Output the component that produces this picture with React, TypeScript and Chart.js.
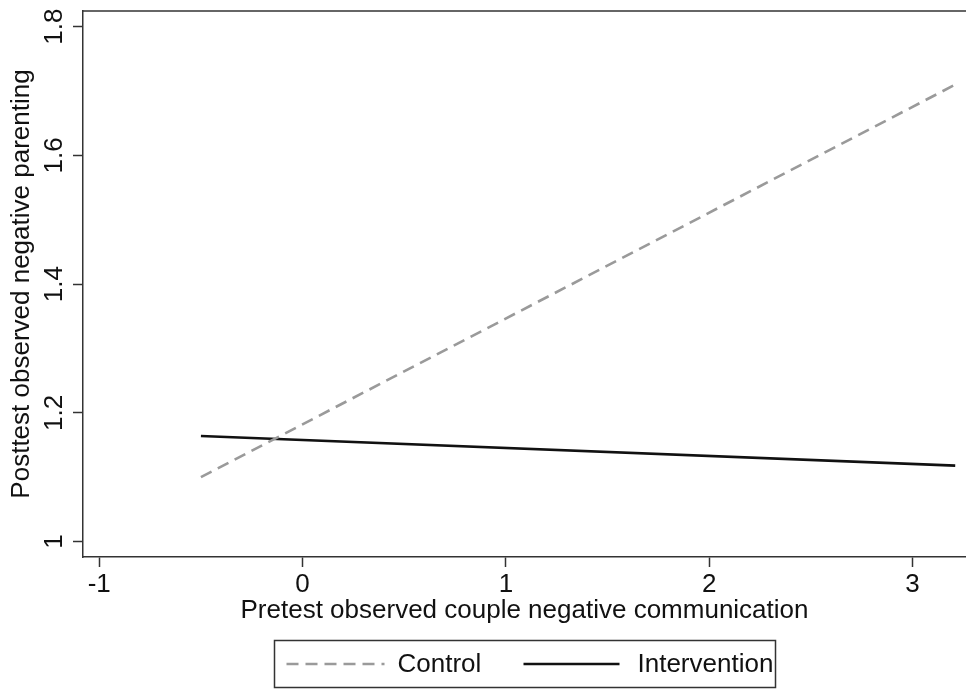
import React, { useEffect, useRef } from "react";
import { Chart, registerables } from "chart.js";

Chart.register(...registerables);

const xValues = [-0.5, 3.21];
const controlValues = [1.1, 1.71];
const interventionValues = [1.164, 1.118];
const xTickValues = [-1, 0, 1, 2, 3];
const yTickValues = [1, 1.2, 1.4, 1.6, 1.8];
const seriesLabels = ["Control", "Intervention"];
const xTitle = "Pretest observed couple negative communication";
const yTitle = "Posttest observed negative parenting";

const FONT = "'Liberation Sans', Arial, Helvetica, sans-serif";
const AXIS = "#333333";

const topBorderPlugin = {
  id: "topBorder",
  afterDraw(chart: any) {
    const { ctx, chartArea } = chart;
    ctx.save();
    ctx.strokeStyle = AXIS;
    ctx.lineWidth = 1.5;
    ctx.beginPath();
    ctx.moveTo(chartArea.left - 0.75, chartArea.top);
    ctx.lineTo(chartArea.right + 2, chartArea.top);
    ctx.stroke();
    ctx.restore();
  },
};

const boxLegendPlugin = {
  id: "boxLegend",
  afterDraw(chart: any) {
    const { ctx, chartArea } = chart;
    const ds = chart.data.datasets;
    const cx = (chartArea.left + chartArea.right) / 2;
    const w = 501;
    const h = 47;
    const left = Math.round(cx - w / 2) + 0.5;
    const top = 640.5;
    const cy = top + h / 2;
    ctx.save();
    ctx.strokeStyle = AXIS;
    ctx.lineWidth = 1.5;
    ctx.strokeRect(left, top, w, h);
    ctx.font = `26px ${FONT}`;
    ctx.textBaseline = "middle";
    ctx.textAlign = "left";
    const items = [
      { x0: left + 12, x1: left + 110, tx: left + 123 },
      { x0: left + 249, x1: left + 345, tx: left + 363 },
    ];
    items.forEach((it, i) => {
      const d = ds[i];
      ctx.save();
      ctx.strokeStyle = d.borderColor;
      ctx.lineWidth = d.borderWidth;
      ctx.setLineDash(d.borderDash || []);
      ctx.beginPath();
      ctx.moveTo(it.x0, cy);
      ctx.lineTo(it.x1, cy);
      ctx.stroke();
      ctx.restore();
      ctx.fillStyle = "#111";
      ctx.fillText(d.label, it.tx, cy + 1);
    });
    ctx.restore();
  },
};

export default function App() {
  const ref = useRef<HTMLCanvasElement | null>(null);

  useEffect(() => {
    if (!ref.current) return;
    Chart.defaults.font.family = FONT;
    const chart = new Chart(ref.current, {
      type: "line",
      data: {
        datasets: [
          {
            label: seriesLabels[0],
            data: xValues.map((x, i) => ({ x, y: controlValues[i] })),
            borderColor: "#9a9a9a",
            borderWidth: 2.6,
            borderDash: [12, 7],
            pointRadius: 0,
            fill: false,
            tension: 0,
          },
          {
            label: seriesLabels[1],
            data: xValues.map((x, i) => ({ x, y: interventionValues[i] })),
            borderColor: "#111111",
            borderWidth: 2.6,
            pointRadius: 0,
            fill: false,
            tension: 0,
          },
        ],
      },
      options: {
        animation: false,
        responsive: false,
        devicePixelRatio: 1,
        layout: { padding: { top: 11, right: 0, left: 0, bottom: 64 } },
        plugins: { legend: { display: false }, tooltip: { enabled: false } },
        scales: {
          x: {
            type: "linear",
            min: -1.08,
            max: 3.263,
            afterBuildTicks: (scale: any) => {
              scale.ticks = xTickValues.map((v) => ({ value: v }));
            },
            afterFit: (scale: any) => {
              scale.height = 69;
              scale.paddingLeft = 0;
              scale.paddingRight = 0;
            },
            ticks: {
              autoSkip: false,
              maxRotation: 0,
              minRotation: 0,
              padding: 2,
              color: "#111",
              font: { size: 26 },
              callback: (v: any) => String(v),
            },
            grid: {
              display: true,
              drawOnChartArea: false,
              drawTicks: true,
              tickLength: 10,
              tickWidth: 1.5,
              tickColor: AXIS,
            },
            border: { display: true, color: AXIS, width: 1.5 },
            title: {
              display: true,
              text: xTitle,
              color: "#111",
              font: { size: 26 },
              padding: { top: 0, bottom: 0 },
            },
          },
          y: {
            type: "linear",
            min: 0.976,
            max: 1.8244,
            afterBuildTicks: (scale: any) => {
              scale.ticks = yTickValues.map((v) => ({ value: v }));
            },
            afterFit: (scale: any) => {
              scale.width = 83;
              scale.paddingTop = 0;
              scale.paddingBottom = 0;
            },
            ticks: {
              autoSkip: false,
              minRotation: 90,
              maxRotation: 90,
              crossAlign: "center",
              padding: 0,
              color: "#111",
              font: { size: 26 },
              callback: (v: any) => String(v),
            },
            grid: {
              display: true,
              drawOnChartArea: false,
              drawTicks: true,
              tickLength: 10,
              tickWidth: 1.5,
              tickColor: AXIS,
            },
            border: { display: true, color: AXIS, width: 1.5 },
            title: {
              display: true,
              text: yTitle,
              color: "#111",
              font: { size: 26 },
              padding: { top: 6, bottom: 0 },
            },
          },
        },
      },
      plugins: [topBorderPlugin, boxLegendPlugin],
    } as any);
    return () => chart.destroy();
  }, []);

  return (
    <div style={{ position: "absolute", left: 0, top: 0, width: 966, height: 690, background: "#fff" }}>
      <canvas ref={ref} width={966} height={690} style={{ display: "block", width: 966, height: 690 }} />
    </div>
  );
}
